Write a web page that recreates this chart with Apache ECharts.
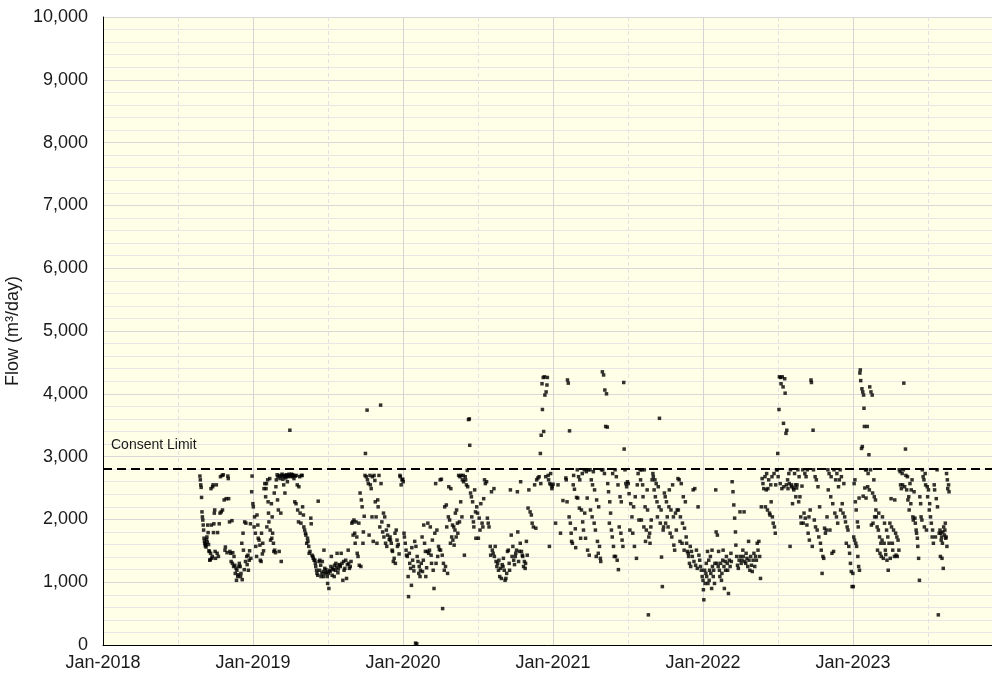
<!DOCTYPE html>
<html>
<head>
<meta charset="utf-8">
<script src="https://cdn.jsdelivr.net/npm/echarts@6/dist/echarts.min.js"></script>
<style>
  html, body { margin: 0; padding: 0; background: #fff; }
  #flowchart { width: 992px; height: 676px; }
</style>
</head>
<body>
<div id="flowchart"></div>
<script>
// daily flow readings, one list per month (Jan..Dec), values in m3/day; null = no reading that day
var flow2018 = [[], [], [], [], [], [], [],
  [null, null, null, null, null, null, null, null, null, null, null, null, null, null, null, null, null, null, null, null, null, null, null, null, 2690, 2630, 2550, 2510, 2350, 2120, 2040],
  [1990, 1910, 1830, 1700, 1650, 1620, 1580, 1600, 1560, 1680, 1720, 1640, 1910, 1790, 1600, 1500, 1490, 1350, 1360, 1460, 2490, 1910, 1380, 1410, 2520, 2550, 1790, 1930, 2100, 2150],
  [1490, 1380, 2550, 1460, 1790, 1410, 1930, 2100, 2680, 2120, 2700, 2150, 2710, 2310, 1510, 1560, 2330, 1470],
  [2690, 2650, 2330, 1960, 1490, 1460, 1330, 1980, 1300, 1470, 1250, 1410, 1270, 1140, 1220, 1030, 1190, 1090, 1120, 1250, 1300],
  [1250, 1090, 1140, 1620, 1040, 1780, 1510, 1200, 1960, 1330, 1940, 1410, 1280, 1430, 1190, 1350, 1500, 1930, 1380, 2440, 2690]
];
var flow2019 = [
  [2250, 2200, 1880, 2040, 1780, 1570, 1410, 2070, 1910, 1700, 1670, 1590, 1350, 1330, 1780, 1450, 1620, 1500, 2490, 2570],
  [2360, 2490, 2570, 1880, 2630, 2280, 2100, 1960, 2650, 1830, 1670, 2250, 1700, 2040, 1780, 1620, 1490, 2420, 1510, 1470, 2520, 2630],
  [2710, 2310, 2680, 2150, 1490, 2700, 2650, 2100, 1330, 2690, 2720, 2640, 2700, 2550, 2680, 2420, 2700, 2660, 2710, 2690, 2600, 2700, 2680, 2720],
  [3420, 2700, 2690, 2720, 2680, 2710, 2700, 2650, 2280, 2690, 2250, 2700, 2550, 2150, 1960, 2520, 2680, 2100, 1940, 2700],
  [2700, 2200, 2070, 1880, 1830, 1780, 1750, 1620, 1700, 1650, 1570, 1460, 1490, 2020, 1930, 1430, 1410, 1380, 1350],
  [1350, 1300, 1250, 1190, 1140, 1110, 2290, 1330, 1190, 1350, 1270, 1090, 1140, 1330, 1170, 1090, 1510, 1220, 1140, 1200, 1160],
  [1090, 980, 1140, 900, 1190, 1170, 1250, 1410, 1110, 1220, 1200, 1090, 1270, 1190, 1300, 1240, 1460, 1150, 1210, 1280],
  [1270, 1250, 1460, 1300, 1030, 1330, 1190, 1220, 1350, 1060, 1280, 1510, 1300, 1220, 1250, 1330, 1940],
  [1960, 1750, 1990, 1780, 1620, 1960, 1720, 1460, 1410, 1940, 1270, 2420, 1250, 2310, 2200, 1620, 1800, 2050],
  [2700, 3050, 2680, 3740, 2630, 2570, 1750, 2700, 2550, 2490, 2040, 2680, 1650, 2700, 2620, 2280, 2040, 1620],
  [2310, 2200, 2700, 1880, 3820, 2570, 1960, 1800, 2100, 1720, 2040, 1620, 1830, 1570, 1750, 1900, 1680],
  [1720, 1670, 1620, 1510, 1490, 1330, 1380, 1780, 1300, 1830, 1670, 1570, 1600, 1450, 2700, 2680, 2550, 2630]
];
var flow2020 = [
  [2640, 2600, 1780, 1720, 1620, 1510, 1430, 1410, 1090, 770, 1460, 1300, 1220, 950, 1550, 1350, 1250, 1180, 1650],
  [30, 1570, 20, 1410, 1330, 1140, 1250, 1090, 1190, 1300, 1720, 1170, 1350, 1910, 1620, 1490, 1090, 1230],
  [1490, 1940, 1460, 1510, 1880, 1430, 1300, 1670, 1190, 900, 1780, 2570, 1300, 1830, 1410, 1570, 1520],
  [2630, 1510, 2640, 1430, 580, 1300, 1190, 2200, 1250, 2230, 1880, 1140, 2040, 2520, 1990, 1620, 2490, 1720],
  [1910, 1670, 1880, 1590, 1830, 2100, 1720, 2150, 1940, 1780, 2700, 1960, 2680, 2280, 2700, 2040, 2630, 2700, 2600, 1430],
  [2680, 2630, 2550, 2780, 2520, 3590, 3600, 3180, 2420, 2360, 2040, 2280, 1960, 1880, 2470, 2120, 1700, 2200],
  [2100, 1700, 2020, 1830, 2250, 1940, 1880, 2330, 2630, 2570, 2600, 2020, 1940, 1880],
  [1570, 1430, 2440, 1510, 1460, 2490, 1410, 1570, 1330, 1250, 1300, 1190, 1350, 1090, 1220, 1060, 1280],
  [1250, 1380, 1190, 1030, 1060, 1140, 1490, 1510, 1300, 1190, 2470, 1750, 1410, 1570, 1350, 1280],
  [1410, 1460, 1510, 2440, 1800, 1330, 1490, 1620, 2600, 1490, 1430, 1410, 1250, 1330, 1220, 1300, 1650, 1430],
  [2180, 2470, 2120, 2070, 1940, 1880, 2550, 1860, 2630, 2660, 2680],
  [3050, 2570, 3340, 4160, 3750, 4260, 3400, 4270, 3980, 2680, 4030, 4140, 4260, 2700, 2630, 1570, 2570, 2730, 2550, 2490, 2520]
];
var flow2021 = [
  [2560, 1940, 2550, 1780, 2300],
  [2660, 2630, 2280, 4220, 4170, 2040, 3410, 1940, 1780, 1650, 1620, 2550, 2700, 2480, 1850, 1550, 2350],
  [2790, 2340, 2680, 2180, 2630, 1700, 2150, 2730, 1960, 1830, 2790, 2100, 1700, 2760, 2340, 1510, 2790, 1430],
  [2790, 2150, 2630, 2040, 2550, 2760, 1940, 2470, 1830, 1410, 2310, 1650, 1460, 2200, 1570, 1380, 1330, 2790],
  [4350, 2790, 4300, 2730, 4060, 3480, 4000, 3470, 2570, 2440, 1940, 2280, 2100, 1830, 1720, 2730, 1570, 1410],
  [2790, 1410, 2680, 1350, 2550, 1200, 1880, 2360, 1780, 2280, 1670, 1570, 4180, 3120, 2790, 2570, 2520],
  [2600, 2570, 2410, 1830, 2250, 2040, 1780, 2200, 1570, 2360, 1380, 2550, 2730, 1990],
  [2790, 2630, 1990, 2790, 2550, 2360, 1880, 2790, 2200, 1650, 1830, 2470, 2150, 480, 1720, 1780, 1620, 1880, 1990, 2630],
  [2730, 2680, 2470, 2630, 2360, 2570, 2280, 2040, 2520, 2200, 3610, 1940, 2150, 1400, 930, 1830, 1880, 2420],
  [2360, 1940, 2280, 2040, 1880, 2200, 2470, 1780, 2150, 1720, 2550, 2040, 1590, 1510, 2100, 1830, 2150],
  [2650, 2150, 2630, 1650, 2040, 2570, 1620, 1940, 2360, 1510, 1860, 2280, 1720, 1620, 1490, 1460, 1410, 1300],
  [1570, 1250, 1490, 1410, 2470, 1330, 2490, 1270, 1510, 1220, 2200, 1430, 1350, 1250, 1190, 1090]
];
var flow2022 = [
  [1030, 880, 720, 1190, 980, 1140, 1300, 1090, 1490, 980, 1350, 1030, 1190, 1410, 1140, 900, 1510, 1250, 1090, 1190, 980, 1300],
  [2470, 1800, 1300, 1750, 1250, 1490, 1190, 1090, 1300, 1030, 1140, 1350, 1510, 1250, 900, 1330, 1190, 1410],
  [1300, 1190, 820, 1350, 1250, 1460, 1330, 2600, 2440, 2230, 2020, 1800, 1590, 1410, 1270, 1220, 1350],
  [2120, 1410, 1300, 1350, 1510, 1410, 2120, 1330, 1300, 1460, 1380, 1250, 1650, 1350, 1190, 1410, 1270],
  [1170, 1350, 1460, 1250, 1410, 1350, 1620, 1510, 1650, 1410, 1060, 2200, 2650, 2570, 2490],
  [2680, 2200, 2470, 2730, 2150, 2490, 2630, 2100, 2070, 2550, 2280, 2680, 2040, 1940, 2730, 1880, 1780, 2550, 2790],
  [2790, 3050, 2680, 3750, 4270, 2570, 4260, 4160, 2490, 4270, 4110, 3530, 2520, 4240, 4010, 3370, 2550, 3420, 2630, 2490, 2730, 2570],
  [1570, 2790, 2550, 2520, 2250, 2500, 2470, 2730, 2550, 2360, 2500, 2550, 2790, 2280, 2680, 2360, 2040, 1940, 2530],
  [2790, 1940, 2100, 2730, 2020, 2680, 1910, 2790, 1780, 2040, 1670, 2150, 4220, 4180, 1570, 3420, 2790, 1990],
  [2680, 1880, 2630, 1830, 2520, 1720, 2200, 1620, 1510, 1140, 1410, 1380, 1860, 1780, 1830, 2040],
  [2790, 2470, 2730, 1830, 2360, 2680, 1460, 2250, 1490, 2790, 2100, 2630, 2040, 2730, 1940, 2520, 2630],
  [2790, 2150, 2680, 2250, 2100, 2570, 2040, 1960, 1620, 1880, 1830, 1570, 1460, 1300, 1170, 930]
];
var flow2023 = [
  [1140, 930, 1720, 2570, 1670, 2630, 2280, 1620, 2150, 1570, 1960, 1410, 1880, 1250, 2340, 1190, 4330, 4380, 4210, 3130, 4080, 3160, 4030, 2370, 3980, 3770, 3480, 2500],
  [2790, 2340, 2790, 3480, 2520, 2730, 3030, 2470, 4110, 2790, 4030, 1910, 3980, 2420, 1940, 2630, 2360, 2040, 2310, 2150, 2040],
  [1880, 1510, 1830, 2100, 1720, 1460, 1620, 1410, 1670, 2040, 1380, 1620, 1940, 1510, 1440, 1830, 1350, 1720, 1190, 1620],
  [1940, 1380, 2330, 1880, 1620, 1510, 1830, 1410, 2310, 1780, 1430, 1720, 1410, 1670, 1510, 2790, 2760, 2550, 2490],
  [2730, 2550, 2790, 4170, 2520, 3120, 2700, 2470, 2680, 2310, 2360, 2150, 2570, 2250, 2470, 2630, 2040, 1990, 2440],
  [2020, 1940, 1830, 1780, 1700, 1570, 1380, 1030, 2360, 2250, 2040, 1990, 2790, 2680, 2630, 1880, 2730, 2550, 1830],
  [2520, 2360, 2470, 2150, 2250, 2040, 1940, 1720, 1830, 1620, 2550, 2470, 1720, 2330, 2790, 2200, 480, 1780],
  [1830, 1410, 1780, 1670, 1720, 1380, 1620, 1800, 1220, 1880, 1750, 1830, 1940, 1700, 1720, 2730, 1570, 2630, 2490, 2550, 2440, null, null, null, null, null, null, null]
];
var consentLimit = 2800;
var yTicks = [0, 10000, 1000];          // min, max, step
var monthNames = ['Jan', 'Feb', 'Mar', 'Apr', 'May', 'Jun', 'Jul', 'Aug', 'Sep', 'Oct', 'Nov', 'Dec'];

var DAY = 86400000;
var YEAR = 365.25 * DAY;

// spread each month's list over the days of that month
function buildPoints(year, months) {
    var pts = [];
    months.forEach(function (vals, m) {
        var dim = new Date(Date.UTC(year, m + 1, 0)).getUTCDate();
        vals.forEach(function (v, i) {
            if (v === null) return;
            var day = 1 + Math.floor(i * dim / vals.length);
            pts.push([Date.UTC(year, m, day), v]);
        });
    });
    return pts;
}

var points = [].concat(
    buildPoints(2018, flow2018),
    buildPoints(2019, flow2019),
    buildPoints(2020, flow2020),
    buildPoints(2021, flow2021),
    buildPoints(2022, flow2022),
    buildPoints(2023, flow2023)
);

var xMin = Date.UTC(2018, 0, 1);   // = 48 * YEAR
var xMax = xMin + 6 * YEAR;

var chart = echarts.init(document.getElementById('flowchart'));
var option = {
    animation: false,
    grid: {
        left: 103,
        right: -11,
        top: 17,
        bottom: 31,
        outerBoundsMode: 'none',
        show: true,
        backgroundColor: '#fffee6',
        borderWidth: 0
    },
    xAxis: {
        type: 'value',
        min: xMin,
        max: xMax,
        interval: YEAR,
        axisLine: { show: true, lineStyle: { color: '#000', width: 1 } },
        axisTick: { show: false },
        axisLabel: {
            margin: 9,
            fontFamily: 'Liberation Sans, Arial, sans-serif',
            fontSize: 18,
            color: '#1a1a1a',
            showMaxLabel: false,
            formatter: function (v) {
                var d = new Date(v + DAY);
                return monthNames[d.getUTCMonth()] + '-' + d.getUTCFullYear();
            }
        },
        splitLine: { show: true, lineStyle: { color: '#d4d4d4', width: 1 } },
        minorTick: { show: false, splitNumber: 2 },
        minorSplitLine: { show: true, lineStyle: { color: '#e2e2e2', width: 1, type: [4, 3] } }
    },
    yAxis: {
        type: 'value',
        min: yTicks[0],
        max: yTicks[1],
        interval: yTicks[2],
        name: 'Flow (m³/day)',
        nameLocation: 'middle',
        nameGap: 73,
        nameTextStyle: {
            fontFamily: 'Liberation Sans, Arial, sans-serif',
            fontSize: 18,
            color: '#1a1a1a'
        },
        axisLine: { show: true, lineStyle: { color: '#000', width: 1 } },
        axisTick: { show: false },
        axisLabel: {
            margin: 15,
            fontFamily: 'Liberation Sans, Arial, sans-serif',
            fontSize: 18,
            color: '#1a1a1a',
            formatter: function (v) {
                return v.toString().replace(/\B(?=(\d{3})+(?!\d))/g, ',');
            }
        },
        splitLine: { show: true, lineStyle: { color: '#d8d8d8', width: 1 } },
        minorTick: { show: false, splitNumber: 5 },
        minorSplitLine: { show: true, lineStyle: { color: '#e6e6e6', width: 1 } }
    },
    series: [
        {
            name: 'Flow',
            type: 'scatter',
            symbol: 'rect',
            symbolSize: 3.5,
            itemStyle: { color: '#000' },
            data: points,
            markLine: {
                silent: true,
                symbol: ['none', 'none'],
                lineStyle: { color: '#000', width: 2, type: [9, 5] },
                label: {
                    show: true,
                    position: 'insideStartTop',
                    formatter: 'Consent Limit',
                    fontFamily: 'Liberation Sans, Arial, sans-serif',
                    fontSize: 14,
                    color: '#1a1a1a',
                    padding: [0, 0, 12, 3]
                },
                data: [{ yAxis: consentLimit }]
            }
        }
    ]
};
chart.setOption(option);
</script>
</body>
</html>
